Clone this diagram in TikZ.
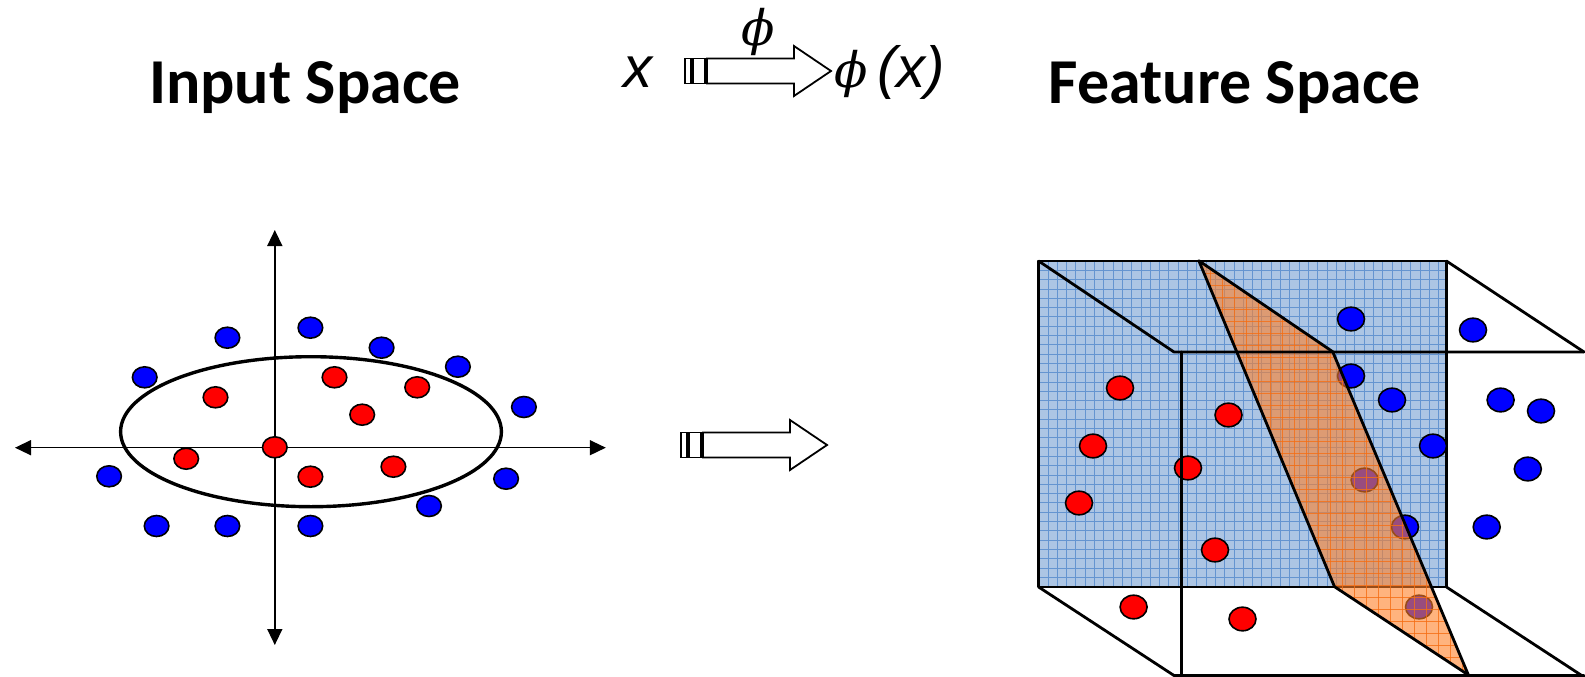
\documentclass[tikz,border=0pt]{standalone}
\usepackage{fontspec}
\setmainfont{Carlito}
\newfontfamily\arialfont{Liberation Sans}
\newfontfamily\phifont{DejaVu Serif}
\usetikzlibrary{arrows.meta}
\definecolor{dotred}{RGB}{255,0,0}
\definecolor{dotblue}{RGB}{0,0,255}
\definecolor{planeblue}{RGB}{172,197,228}
\definecolor{gridblue}{RGB}{100,148,208}
\definecolor{planeorange}{RGB}{255,128,40}
\definecolor{gridorange}{RGB}{245,110,20}

% block arrow with two tail stripes, #1,#2 = tail point
\newcommand{\blockarrow}[2]{%
  \begin{scope}[shift={(#1,#2)}]
    \draw[blockline] (0,-12.5) rectangle (6,12.5);
    \draw[blockline] (8,-12.5) rectangle (20,12.5);
    \draw[blockline] (22,-12.5) -- (109,-12.5) -- (109,-25) -- (146,0)
      -- (109,25) -- (109,12.5) -- (22,12.5) -- cycle;
  \end{scope}}
\newcommand{\bigphi}{{\phifont\itshape\fontsize{49}{54}\selectfont ϕ}}

\begin{document}
\begin{tikzpicture}[
    x=1pt, y=-1pt,
    title/.style={font=\bfseries\fontsize{64}{70}\selectfont, inner sep=0pt, anchor=base},
    formula/.style={font=\arialfont\itshape\fontsize{58}{64}\selectfont, inner sep=0pt},
    blockline/.style={draw=black, line width=1.8pt, fill=white},
    axis/.style={line width=1.5pt, {Triangle[length=16pt,width=15pt]}-{Triangle[length=16pt,width=15pt]}},
    edge/.style={line width=2.8pt, line cap=round, line join=round},
    reddot/.style={draw=black, line width=1.6pt, fill=dotred},
    bluedot/.style={draw=black, line width=1.6pt, fill=dotblue},
    gridline/.style={line width=0.7pt}
]
\useasboundingbox (0,0) rectangle (1585,677);

% Titles
\node[title] (inputtitle) at (305,103) {Input Space};
\node[title] (featuretitle) at (1235,103) {Feature Space};

% Mapping x -> phi(x)
\node[formula, anchor=base] (xin) at (638,88) {x};
\node[inner sep=0pt, anchor=base] (philabel) at (758,46) {\bigphi};
\node[formula, anchor=base west] (phix) at (834,88) {\bigphi\,(x)};
\blockarrow{685}{71}

% Input space
\draw[axis] (15,447.7) -- (605.8,447.7);
\draw[axis] (274.8,230) -- (274.8,645);
\draw[line width=3.4pt] (311,431.7) ellipse [x radius=190.4, y radius=75];
\foreach \px/\py in {227.4/337.7, 310.4/327.7, 381.6/347.7, 457.9/366.7, 144.7/377.3,
    523.9/407, 109.1/476.3, 506.1/478.7, 429/506, 156.6/526, 227.4/526, 310.4/526}
  \draw[bluedot] (\px,\py) ellipse [x radius=12.3, y radius=10.5];
\foreach \px/\py in {334.5/377.3, 417.2/387.3, 215.5/397.3, 362.2/414.7, 274.8/447.3,
    186.2/458.7, 393.4/466.7, 310.4/476.7}
  \draw[reddot] (\px,\py) ellipse [x radius=12.3, y radius=10.5];

% Mapping arrow
\blockarrow{681}{445}

% Feature space: front face
\fill[planeblue] (1038.6,261) rectangle (1446.4,587);
\begin{scope}
  \clip (1038.6,261) rectangle (1446.4,587);
  \foreach \gx in {1038.6,1047.9,...,1447}
    \draw[gridline, gridblue] (\gx,261) -- (\gx,587);
  \foreach \gy in {261,270.3,...,588}
    \draw[gridline, gridblue] (1038.6,\gy) -- (1446.4,\gy);
\end{scope}
\draw[edge] (1038.6,261) rectangle (1446.4,587);

% Feature space: points
\foreach \px/\py in {1351/319, 1473/330, 1351/376, 1392/400, 1433/446, 1500.6/400,
    1541/411, 1527.8/469, 1486.7/527, 1405/527, 1364.6/480, 1419/607}
  \draw[bluedot] (\px,\py) ellipse [x radius=13.5, y radius=11.8];
\foreach \px/\py in {1120/388, 1093/446, 1079/503, 1228.5/415, 1188/468, 1215/550,
    1133.6/607, 1242.5/619}
  \draw[reddot] (\px,\py) ellipse [x radius=13.5, y radius=11.8];

% Separating plane
\fill[planeorange, opacity=0.6] (1198.8,260.7) -- (1332.7,351.7) -- (1468.4,675)
  -- (1334.5,586.7) -- cycle;
\begin{scope}
  \clip (1198.8,260.7) -- (1332.7,351.7) -- (1468.4,675) -- (1334.5,586.7) -- cycle;
  \foreach \gx in {1198,1210,...,1470}
    \draw[gridline, gridorange, opacity=0.8] (\gx,260) -- (\gx,677);
  \foreach \gy in {261,273,...,677}
    \draw[gridline, gridorange, opacity=0.8] (1198,\gy) -- (1470,\gy);
\end{scope}

% Feature space: cube edges
\draw[edge] (1038.6,261) -- (1174,352) -- (1584,352);
\draw[edge] (1446.4,261) -- (1584,352);
\draw[edge] (1181.6,352) -- (1181.6,677);
\draw[edge] (1038.6,587) -- (1174,675.5) -- (1584,675.5);
\draw[edge] (1446.4,587) -- (1584,677);
\draw[edge] (1198.8,260.7) -- (1332.7,351.7) -- (1468.4,675)
  -- (1334.5,586.7) -- cycle;

\end{tikzpicture}
\end{document}
